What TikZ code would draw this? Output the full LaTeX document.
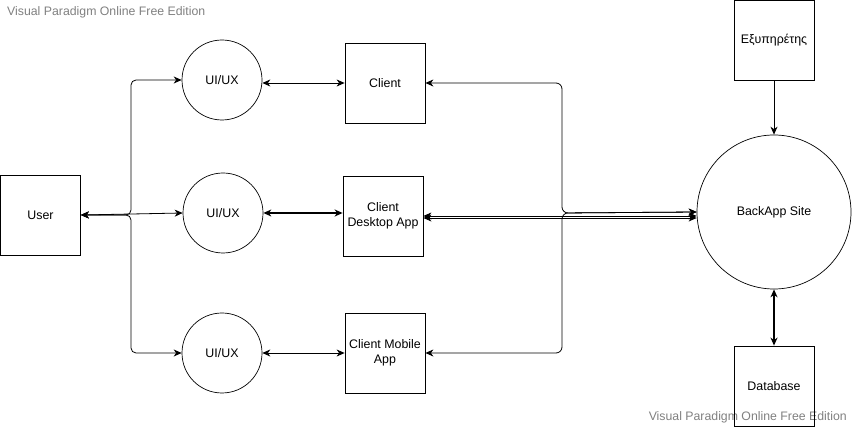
\documentclass[tikz,border=0pt]{standalone}
\usepackage{fontspec}
\setmainfont{Liberation Sans}
\usetikzlibrary{arrows.meta}
\definecolor{wm}{HTML}{808080}
\tikzset{
  box/.style={draw, line width=0.8pt, minimum width=80pt, minimum height=80pt, inner sep=0pt, align=center, font=\fontsize{12.4}{14.5}\selectfont},
  circ/.style={draw, circle, line width=0.7pt, minimum size=80pt, inner sep=0pt, align=center, font=\fontsize{12.4}{14.5}\selectfont},
  conn/.style={line width=0.8pt, {Stealth[length=8pt,width=7pt,inset=2.5pt]}-{Stealth[length=8pt,width=7pt,inset=2.5pt]}},
  oneway/.style={line width=0.8pt, -{Stealth[length=8pt,width=7pt,inset=2.5pt]}},
  wmark/.style={text=wm, inner sep=0pt, font=\fontsize{12.3}{14}\selectfont}
}
\begin{document}
\begin{tikzpicture}[x=1pt,y=-1pt]
\useasboundingbox (0,0) rectangle (852,427);
% watermarks
\node[wmark, anchor=west] (wm1) at (7,12) {Visual Paradigm Online Free Edition};
\node[wmark, anchor=east] (wm2) at (847,417) {Visual Paradigm Online Free Edition};
% nodes
\node[box] (user) at (40.5,215) {User};
\node[circ] (ui1) at (222,80) {UI/UX};
\node[circ] (ui2) at (223,213) {UI/UX};
\node[circ] (ui3) at (222,353) {UI/UX};
\node[box] (client) at (385,83) {Client};
\node[box] (desk) at (383,216) {Client\\Desktop App};
\node[box] (mob) at (385,353) {Client Mobile\\App};
\node[circ, minimum size=154pt] (back) at (774,212) {BackApp Site};
\node[box] (serv) at (774,40.5) {Εξυπηρέτης};
\node[box] (db) at (774,386) {Database};
% junctions
\coordinate (ux) at (131,215);
\coordinate (jx) at (562,213);
% user to UI/UX
\draw[conn, rounded corners=5pt] (user.east) -- (ux) |- (ui1.west);
\draw[conn] (user.east) -- (ui2.west);
\draw[conn, rounded corners=5pt] (user.east) -- (ux) |- (ui3.west);
% UI/UX to clients
\draw[conn] (ui1.east |- client.west) -- (client.west);
\draw[conn, line width=1.5pt] (ui2.east) -- (ui2.east -| desk.west);
\draw[conn] (ui3.east) -- (ui3.east -| mob.west);
% clients to BackApp
\draw[conn, rounded corners=6pt] (back.west) -- (jx) |- (client.east);
\draw[conn, rounded corners=6pt] (back.west) -- (jx) |- (mob.east);
\draw[conn] ([yshift=-2pt]desk.east) -- ([yshift=-2pt]desk.east -| back.west);
\draw[conn] (desk.east) -- (desk.east -| back.west);
% server and database
\draw[oneway] (serv.south) -- (back.north);
\draw[conn, line width=1.3pt] (back.south) -- (db.north);
\end{tikzpicture}
\end{document}
